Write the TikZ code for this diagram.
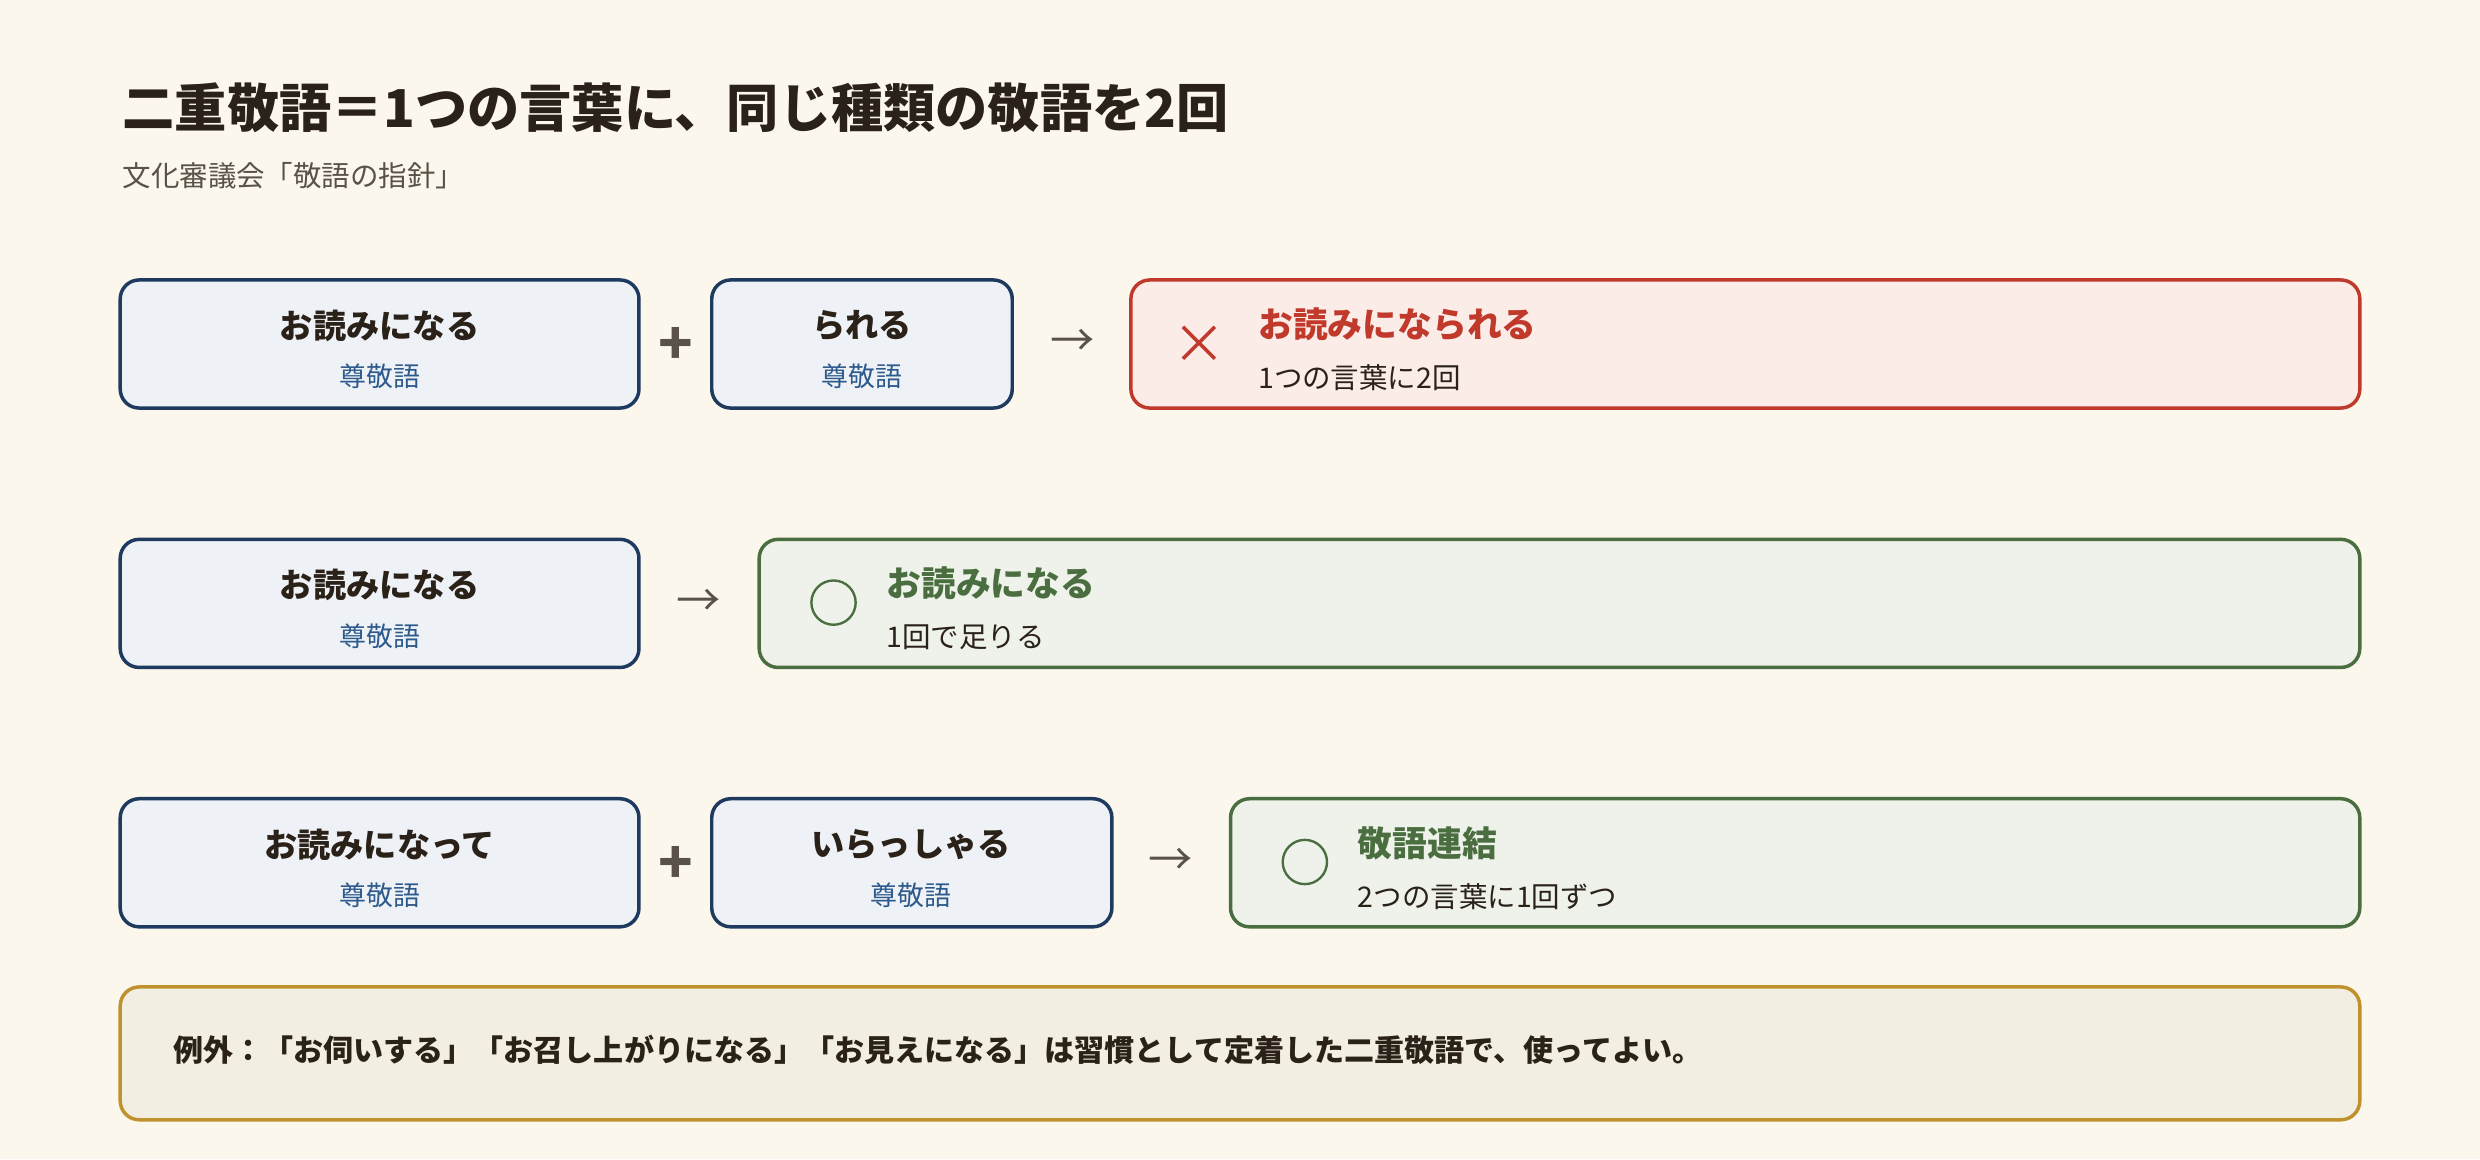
\documentclass[tikz,border=0pt]{standalone}
\usepackage{fontspec}
\setmainfont{Noto Sans CJK JP}
\definecolor{bg}{HTML}{FBF7EC}
\definecolor{ink}{HTML}{2A2118}
\definecolor{bbd}{HTML}{1E3A5F}
\definecolor{bfl}{HTML}{EEF1F5}
\definecolor{btx}{HTML}{2D5A8C}
\definecolor{rbd}{HTML}{C0392B}
\definecolor{rfl}{HTML}{FBECE8}
\definecolor{gbd}{HTML}{4A6E3F}
\definecolor{gfl}{HTML}{EEF2EA}
\definecolor{ybd}{HTML}{C0922E}
\definecolor{yfl}{HTML}{F3EEE2}
\definecolor{gray}{HTML}{5A5248}
\begin{document}
\begin{tikzpicture}[x=1pt,y=-1pt,
 box/.style={rounded corners=12pt,line width=2.2pt},
 blue/.style={box,draw=bbd,fill=bfl},
 red/.style={box,draw=rbd,fill=rfl},
 green/.style={box,draw=gbd,fill=gfl},
 main/.style={font=\fontsize{21}{24}\selectfont\bfseries,text=ink},
 sub/.style={font=\fontsize{17}{20}\selectfont,text=btx},
 op/.style={font=\fontsize{36}{36}\selectfont\bfseries,text=gray},
 arr/.style={font=\fontsize{28}{28}\selectfont,text=gray},
 rt/.style={anchor=west,font=\fontsize{22}{26}\selectfont\bfseries},
 rs/.style={anchor=west,font=\fontsize{18}{22}\selectfont,text=ink}]
\fill[bg] (0,0) rectangle (1568,733);
\useasboundingbox (0,0) rectangle (1568,733);
\node[anchor=west,font=\fontsize{33}{38}\selectfont\bfseries,text=ink] (title) at (74,68) {二重敬語＝1つの言葉に、同じ種類の敬語を2回};
\node[anchor=west,font=\fontsize{18}{22}\selectfont,text=gray] (subt) at (74,111) {文化審議会「敬語の指針」};
% row 1
\draw[blue] (76,177) rectangle (404,258);
\node[main] (a1) at (240,206) {お読みになる};
\node[sub] (a1s) at (240,238) {尊敬語};
\node[op] (p1) at (427,219) {+};
\draw[blue] (450,177) rectangle (640,258);
\node[main] (a2) at (545,206) {られる};
\node[sub] (a2s) at (545,238) {尊敬語};
\node[arr] (r1) at (678,217) {→};
\draw[red] (715,177) rectangle (1492,258);
\node[text=rbd,font=\fontsize{34}{34}\selectfont] (x1) at (758,218) {×};
\node[rt,text=rbd] (t1) at (792,205) {お読みになられる};
\node[rs] (s1) at (792,239) {1つの言葉に2回};
% row 2
\draw[blue] (76,341) rectangle (404,422);
\node[main] (b1) at (240,370) {お読みになる};
\node[sub] (b1s) at (240,402) {尊敬語};
\node[arr] (r2) at (442,381) {→};
\draw[green] (480,341) rectangle (1492,422);
\draw[gbd,line width=1.5pt] (527,381) circle (14);
\node[rt,text=gbd] (t2) at (557,369) {お読みになる};
\node[rs] (s2) at (557,403) {1回で足りる};
% row 3
\draw[blue] (76,505) rectangle (404,586);
\node[main] (c1) at (240,534) {お読みになって};
\node[sub] (c1s) at (240,566) {尊敬語};
\node[op] (p3) at (427,547) {+};
\draw[blue] (450,505) rectangle (703,586);
\node[main] (c2) at (576,534) {いらっしゃる};
\node[sub] (c2s) at (576,566) {尊敬語};
\node[arr] (r3) at (740,545) {→};
\draw[green] (778,505) rectangle (1492,586);
\draw[gbd,line width=1.5pt] (825,545) circle (14);
\node[rt,text=gbd] (t3) at (855,533) {敬語連結};
\node[rs] (s3) at (855,567) {2つの言葉に1回ずつ};
% exception
\draw[box,draw=ybd,fill=yfl] (76,624) rectangle (1492,708);
\node[anchor=west,font=\fontsize{19}{22}\selectfont\bfseries,text=ink] (ex) at (106,664) {例外：「お伺いする」「お召し上がりになる」「お見えになる」は習慣として定着した二重敬語で、使ってよい。};
\end{tikzpicture}
\end{document}
